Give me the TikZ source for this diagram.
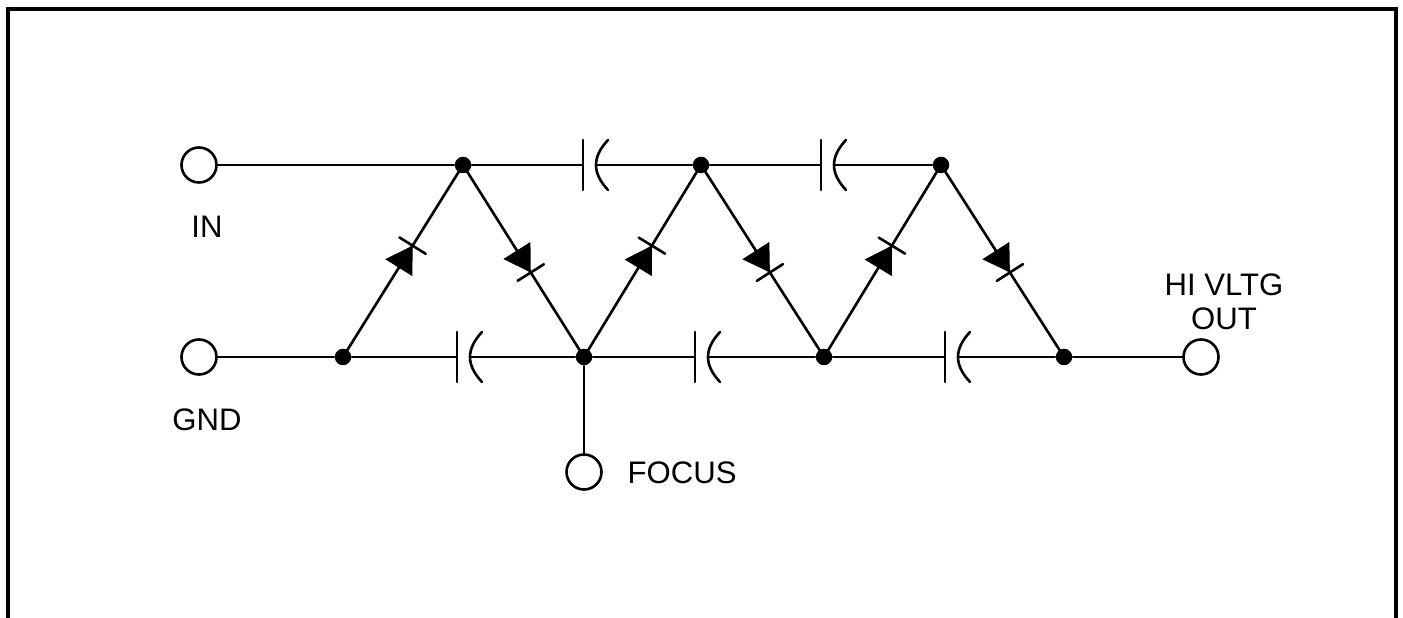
\documentclass[tikz,border=0pt]{standalone}
\usepackage{fontspec}
\setmainfont{Liberation Sans}
\usetikzlibrary{positioning}

\tikzset{
  wire/.style={line width=0.74pt, line cap=round},
  junction/.style={circle, fill=black, inner sep=0pt, minimum size=0.165cm},
  terminal/.style={circle, draw, fill=white, line width=0.74pt, inner sep=0pt, minimum size=0.35cm},
  lbl/.style={inner sep=0pt, font=\fontsize{8.85}{9.6}\selectfont, align=center},
  diode/.pic={
    \fill (0,0) -- (-0.26,0.16) -- (-0.26,-0.16) -- cycle;
    \draw[wire] (0,0.155) -- (0,-0.155);
  },
  capbody/.pic={
    \draw[wire] (0,0.25) -- (0,-0.25);
    \draw[wire] (0.25,0.25) .. controls (0.09,0.08) and (0.09,-0.08) .. (0.25,-0.25);
  }
}

\begin{document}
\begin{tikzpicture}
\useasboundingbox (0, 0) rectangle (14.03, 6.18);

\draw[line width=1pt, line join=miter] (0.08, 0) -- (0.08, 6.09) -- (13.96, 6.09) -- (13.96, 0);

% terminals
\node[terminal] (in) at (1.99, 4.53) {};
\node[terminal] (gnd) at (1.99, 2.61) {};
\node[terminal] (focus) at (5.84, 1.46) {};
\node[terminal] (out) at (12.01, 2.61) {};

% top row
\node[junction] (t1) at (4.63, 4.53) {};
\node[junction] (t2) at (7.01, 4.53) {};
\node[junction] (t3) at (9.41, 4.53) {};

% bottom row
\node[junction] (b1) at (3.43, 2.61) {};
\node[junction] (b2) at (5.84, 2.61) {};
\node[junction] (b3) at (8.24, 2.61) {};
\node[junction] (b4) at (10.64, 2.61) {};

% capacitors
\coordinate (c1) at (5.83, 4.53);
\coordinate[right=0.13 of c1] (c1r);
\coordinate (c2) at (8.21, 4.53);
\coordinate[right=0.13 of c2] (c2r);
\coordinate (c3) at (4.57, 2.61);
\coordinate[right=0.13 of c3] (c3r);
\coordinate (c4) at (6.95, 2.61);
\coordinate[right=0.13 of c4] (c4r);
\coordinate (c5) at (9.45, 2.61);
\coordinate[right=0.13 of c5] (c5r);

\foreach \c in {c1, c2, c3, c4, c5} {
  \pic at (\c) {capbody};
}

\draw[wire] (in) -- (t1) -- (c1);
\draw[wire] (c1r) -- (t2) -- (c2);
\draw[wire] (c2r) -- (t3);

\draw[wire] (gnd) -- (b1) -- (c3);
\draw[wire] (c3r) -- (b2) -- (c4);
\draw[wire] (c4r) -- (b3) -- (c5);
\draw[wire] (c5r) -- (b4) -- (out);
\draw[wire] (b2) -- (focus);

% diodes
\draw[wire] (b1.center) -- pic[pos=0.58, sloped] {diode} (t1.center);
\draw[wire] (t1.center) -- pic[pos=0.56, sloped] {diode} (b2.center);
\draw[wire] (b2.center) -- pic[pos=0.58, sloped] {diode} (t2.center);
\draw[wire] (t2.center) -- pic[pos=0.56, sloped] {diode} (b3.center);
\draw[wire] (b3.center) -- pic[pos=0.58, sloped] {diode} (t3.center);
\draw[wire] (t3.center) -- pic[pos=0.56, sloped] {diode} (b4.center);

\node[lbl] (inlbl) at (2.07, 3.91) {IN};
\node[lbl] (gndlbl) at (2.07, 1.98) {GND};
\node[lbl, anchor=west] (focuslbl) at (6.27, 1.45) {FOCUS};
\node[lbl] (outlbl) at (12.24, 3.16) {HI VLTG\\OUT};

\end{tikzpicture}
\end{document}
